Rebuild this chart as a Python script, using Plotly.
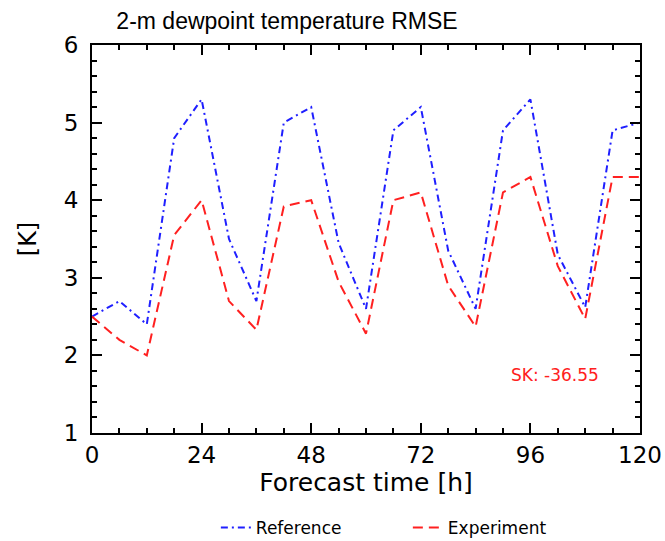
import plotly.graph_objects as go

hours = [0, 6, 12, 18, 24, 30, 36, 42, 48, 54, 60, 66, 72, 78, 84, 90, 96, 102, 108, 114, 120]
reference = [2.5, 2.7, 2.4, 4.8, 5.3, 3.5, 2.7, 5.0, 5.2, 3.45, 2.6, 4.9, 5.2, 3.35, 2.6, 4.9, 5.3, 3.3, 2.62, 4.9, 5.0]
experiment = [2.5, 2.2, 2.0, 3.55, 4.0, 2.7, 2.33, 3.92, 4.0, 2.95, 2.28, 4.0, 4.1, 2.9, 2.37, 4.1, 4.3, 3.15, 2.47, 4.3, 4.3]
x_ticks = [0, 24, 48, 72, 96, 120]
y_ticks = [1, 2, 3, 4, 5, 6]

TITLE_FONT = "Liberation Sans, Arial, Helvetica, sans-serif"
FONT = "DejaVu Sans, Verdana, sans-serif"

fig = go.Figure()
fig.add_trace(go.Scatter(x=hours, y=reference, mode="lines", name="Reference",
                         line=dict(color="#1f1fff", width=2, dash="7px,4px,2px,4px")))
fig.add_trace(go.Scatter(x=hours, y=experiment, mode="lines", name="Experiment",
                         line=dict(color="#ff2020", width=2, dash="10px,6px")))

axis_common = dict(showgrid=False, zeroline=False, showline=True, linecolor="black",
                   linewidth=2, mirror="ticks", ticks="inside", ticklen=10, tickwidth=2,
                   tickcolor="black", automargin=False,
                   tickfont=dict(size=23, color="black", family=FONT))

fig.update_xaxes(range=[0, 120], tickvals=x_ticks, ticktext=[str(v) for v in x_ticks],
                 minor=dict(dtick=6, tick0=0, ticks="inside", ticklen=5, tickwidth=2, tickcolor="black"),
                 title=dict(text="Forecast time [h]", font=dict(size=25, color="black", family=FONT), standoff=2),
                 **axis_common)
fig.update_yaxes(range=[1, 6], tickvals=y_ticks, ticktext=[str(v) for v in y_ticks],
                 ticklabelstandoff=7,
                 minor=dict(dtick=0.2, tick0=1, ticks="inside", ticklen=5, tickwidth=2, tickcolor="black"),
                 title=dict(text="[K]", font=dict(size=24, color="black", family=FONT), standoff=20),
                 **axis_common)

fig.add_annotation(text="SK: -36.55", xref="paper", yref="paper", x=0.845, y=0.149,
                   xanchor="center", yanchor="middle",
                   showarrow=False, font=dict(size=17, color="#ff2020", family=FONT))

fig.update_layout(
    width=665, height=541,
    margin=dict(l=92, r=25, t=45, b=108, autoexpand=False),
    paper_bgcolor="white", plot_bgcolor="white",
    title=dict(text="2-m dewpoint temperature RMSE", x=0.4316, xref="container", xanchor="center",
               y=0.962, yref="container", yanchor="middle",
               font=dict(size=23, color="black", family=TITLE_FONT)),
    legend=dict(orientation="h", x=0.226, xanchor="left", y=-0.245, yanchor="middle",
                font=dict(size=17, color="black", family=FONT), entrywidth=147,
                bgcolor="rgba(0,0,0,0)"),
)

fig.write_html(
    "out.html",
    config={"responsive": False, "displayModeBar": False},
    post_script=(
        "document.body.style.margin='0px';"
        "document.body.style.padding='0px';"
        "document.body.style.overflow='hidden';"
    ),
)
